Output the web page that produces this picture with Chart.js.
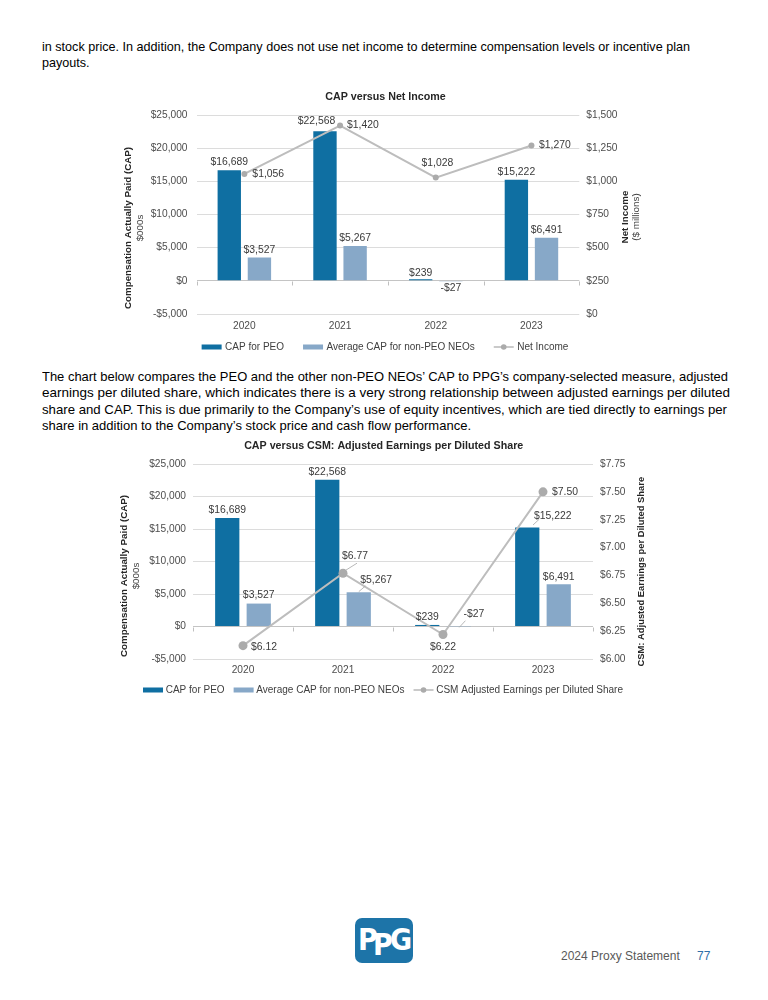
<!DOCTYPE html>
<html><head><meta charset="utf-8">
<script src="https://cdn.jsdelivr.net/npm/chart.js@4.4.1/dist/chart.umd.min.js"></script>
<style>
html,body{margin:0;padding:0;background:#fff;}
#page{position:relative;width:768px;height:1000px;overflow:hidden;font-family:"Liberation Sans",Arial,sans-serif;color:#000;}
.p{position:absolute;left:42px;white-space:nowrap;}
.p div{height:16.45px;line-height:16.45px;}
.p span{display:inline-block;transform-origin:0 50%;}
canvas{position:absolute;left:0;}
#logo{position:absolute;left:355px;top:918px;width:58px;height:45px;border-radius:7px;background:#1d74a8;overflow:hidden;}
#logo span{position:absolute;color:#fff;font-family:"DejaVu Sans",sans-serif;font-weight:bold;font-stretch:condensed;line-height:1;}
#foot{position:absolute;top:949px;left:561px;font-size:12px;color:#595959;white-space:nowrap;}
#pg{position:absolute;top:949px;left:697px;font-size:12px;color:#2f6fa8;}
</style></head>
<body><div id="page">
<div class="p" style="top:38.8px;font-size:12.6px">
<div><span data-w="648">in stock price. In addition, the Company does not use net income to determine compensation levels or incentive plan</span></div>
<div><span>payouts.</span></div>
</div>
<canvas id="c1" width="768" height="275" style="top:85px"></canvas>
<div class="p" style="top:368.8px;font-size:13px">
<div><span data-w="686">The chart below compares the PEO and the other non-PEO NEOs’ CAP to PPG’s company-selected measure, adjusted</span></div>
<div><span data-w="688">earnings per diluted share, which indicates there is a very strong relationship between adjusted earnings per diluted</span></div>
<div><span data-w="685">share and CAP. This is due primarily to the Company’s use of equity incentives, which are tied directly to earnings per</span></div>
<div><span>share in addition to the Company’s stock price and cash flow performance.</span></div>
</div>
<canvas id="c2" width="768" height="275" style="top:430px"></canvas>
<div id="logo"><span style="left:3px;top:7px;font-size:30px">P</span><span style="left:18px;top:12px;font-size:30px">P</span><span style="left:35px;top:7px;font-size:30px">G</span></div>
<div id="foot">2024 Proxy Statement</div>
<div id="pg">77</div>
</div>
<script>
// ---- data ----
const years = ['2020', '2021', '2022', '2023'];
const capPEO = [16689, 22568, 239, 15222];
const capNEO = [3527, 5267, -27, 6491];
const netIncome = [1056, 1420, 1028, 1270];
const csmEPS = [6.12, 6.77, 6.22, 7.50];
const capAxis = [-5000, 25000, 5000];
const netIncomeAxis = [0, 1500, 250];
const epsAxis = [6.00, 7.75, 0.25];
const seriesNames = ['CAP for PEO', 'Average CAP for non-PEO NEOs', 'Net Income', 'CSM Adjusted Earnings per Diluted Share'];

// fit paragraph lines to their measured widths
document.querySelectorAll('.p span[data-w]').forEach(s => {
  const w = s.getBoundingClientRect().width;
  s.style.transform = 'scaleX(' + (parseFloat(s.dataset.w) / w) + ')';
});

const FONT = '"Liberation Sans", Arial, sans-serif';
const f = (s, b) => (b ? 'bold ' : '') + s + 'px ' + FONT;
const fmtUSD = v => (v < 0 ? '-' : '') + '$' + Math.abs(v).toLocaleString('en-US');
const fmtEPS = v => '$' + Number(v).toFixed(2);
const C_PEO = '#0f6fa2', C_NEO = '#87a8c8', C_LINE = '#bdbdbd', C_PT = '#ababab';
const TICK = '#4d4d4d', LAB = '#3a3a3a', DARK = '#262626';
const TS = 10.2;

function decor(spec) {
  return {
    id: 'decor',
    afterDatasetsDraw(chart) {
      const ctx = chart.ctx, a = chart.chartArea;
      ctx.save();
      const zy = Math.round(chart.scales.y.getPixelForValue(0)) + 0.5;
      const n = chart.data.labels.length, cw = (a.right - a.left) / n;
      ctx.strokeStyle = '#bfbfbf'; ctx.lineWidth = 1;
      for (let i = 0; i <= n; i++) {
        const x = Math.round(a.left + i * cw) + 0.5;
        ctx.beginPath(); ctx.moveTo(x, zy); ctx.lineTo(x, zy + 4); ctx.stroke();
      }
      ctx.font = f(10.4); ctx.fillStyle = LAB; ctx.textBaseline = 'middle';
      spec.labels.forEach(L => {
        const meta = chart.getDatasetMeta(L.ds);
        meta.data.forEach((el, i) => {
          const p = L.pos[i];
          const v = chart.data.datasets[L.ds].data[i];
          ctx.textAlign = p.al || 'center';
          const cx = el.x + p.dx, cy = el.y + p.dy;
          ctx.fillText(L.fmt(v), cx, cy);
          if (p.ld) {
            ctx.strokeStyle = '#a6a6a6'; ctx.lineWidth = 0.8;
            ctx.beginPath();
            ctx.moveTo(el.x + p.ld[0], el.y + p.ld[1]);
            ctx.lineTo(cx + p.ld[2], cy + p.ld[3]);
            ctx.stroke();
          }
        });
      });
      ctx.restore();
    },
    afterDraw(chart) {
      const ctx = chart.ctx;
      ctx.save();
      ctx.fillStyle = DARK; ctx.textAlign = 'center'; ctx.textBaseline = 'middle';
      ctx.font = f(10.7, true);
      ctx.fillText(spec.title, spec.tx, spec.ty);
      spec.axisTitles.forEach(t => {
        ctx.save();
        ctx.translate(t.x, t.y); ctx.rotate(-Math.PI / 2);
        ctx.font = f(t.size, t.bold); ctx.fillStyle = t.bold ? DARK : '#404040';
        ctx.fillText(t.text, 0, 0);
        ctx.restore();
      });
      ctx.font = f(10);
      let w = 0;
      const items = spec.legend.map(it => { const tw = ctx.measureText(it.text).width; return Object.assign({ tw }, it); });
      items.forEach((it, i) => { w += 20 + spec.lgap + it.tw + (i < items.length - 1 ? spec.igap : 0); });
      let x = spec.lx - w / 2; const y = spec.ly;
      ctx.textAlign = 'left';
      items.forEach(it => {
        if (it.type === 'box') {
          ctx.fillStyle = it.color; ctx.fillRect(x, y - 2.5, 20, 5);
        } else {
          ctx.strokeStyle = C_LINE; ctx.lineWidth = 1.6;
          ctx.beginPath(); ctx.moveTo(x, y); ctx.lineTo(x + 20, y); ctx.stroke();
          ctx.fillStyle = C_PT; ctx.beginPath(); ctx.arc(x + 10, y, 2.8, 0, Math.PI * 2); ctx.fill();
        }
        x += 20 + spec.lgap;
        ctx.fillStyle = '#404040'; ctx.fillText(it.text, x, y + 0.5);
        x += it.tw + spec.igap;
      });
      ctx.restore();
    }
  };
}

function yAxis(pos, ax, fmt, pad, width, grid) {
  return {
    position: pos, min: ax[0], max: ax[1],
    ticks: { stepSize: ax[2], callback: v => fmt(v), padding: pad, color: TICK, font: { family: FONT, size: TS } },
    grid: grid ? { color: c => (c.tick && c.tick.value === 0 ? '#c4c4c4' : '#dcdcdc'), drawTicks: false, lineWidth: 1 } : { display: false, drawTicks: false },
    border: { display: false },
    afterFit: s => { s.width = width; }
  };
}

function build(id, cfg) {
  return new Chart(document.getElementById(id), {
    data: {
      labels: years,
      datasets: [
        { type: 'line', label: cfg.lineName, data: cfg.lineData, yAxisID: 'y1', order: 0,
          borderColor: C_LINE, borderWidth: 2, pointRadius: cfg.pr, pointBackgroundColor: C_PT, pointBorderColor: C_PT, pointBorderWidth: 0, tension: 0 },
        { type: 'bar', label: seriesNames[0], data: capPEO, yAxisID: 'y', order: 1, backgroundColor: C_PEO,
          categoryPercentage: cfg.cp, barPercentage: cfg.bp },
        { type: 'bar', label: seriesNames[1], data: capNEO, yAxisID: 'y', order: 1, backgroundColor: C_NEO,
          categoryPercentage: cfg.cp, barPercentage: cfg.bp }
      ]
    },
    options: {
      responsive: false, animation: false, devicePixelRatio: 1,
      layout: { padding: cfg.padding },
      plugins: { legend: { display: false }, tooltip: { enabled: false }, title: { display: false } },
      scales: {
        x: { type: 'category', offset: true, grid: { display: false, drawTicks: false }, border: { display: false },
             ticks: { color: TICK, font: { family: FONT, size: TS }, padding: cfg.xpad, maxRotation: 0 },
             afterFit: s => { s.height = 46; } },
        y: yAxis('left', capAxis, fmtUSD, cfg.lpad, 70, true),
        y1: yAxis('right', cfg.rAxis, cfg.rFmt, cfg.rpad, 70, false)
      }
    },
    plugins: [decor(cfg.spec)]
  });
}

// chart 1: CAP versus Net Income
build('c1', {
  lineName: seriesNames[2], lineData: netIncome, pr: 3, cp: 0.63, bp: 0.775,
  padding: { left: 126.5, right: 118.7, top: 30, bottom: 0 },
  xpad: 6, lpad: 9, rpad: 7, rAxis: netIncomeAxis, rFmt: fmtUSD,
  spec: {
    title: 'CAP versus Net Income', tx: 385.5, ty: 12,
    axisTitles: [
      { text: 'Compensation Actually Paid (CAP)', x: 128.5, y: 143, size: 9.8, bold: true },
      { text: '$000s', x: 140.5, y: 143, size: 9.8, bold: false },
      { text: 'Net Income', x: 625.5, y: 132, size: 9.8, bold: true },
      { text: '($ millions)', x: 636.5, y: 132, size: 9.8, bold: false }
    ],
    legend: [
      { type: 'box', color: C_PEO, text: seriesNames[0] },
      { type: 'box', color: C_NEO, text: seriesNames[1] },
      { type: 'line', text: seriesNames[2] }
    ],
    lgap: 3.5, igap: 19, lx: 385, ly: 262,
    labels: [
      { ds: 1, fmt: fmtUSD, pos: [{ dx: 0, dy: -7.5 }, { dx: -8.5, dy: -10 }, { dx: 0, dy: -6.5 }, { dx: 0, dy: -7.5 }] },
      { ds: 2, fmt: fmtUSD, pos: [{ dx: 0, dy: -7.5 }, { dx: 0, dy: -7.5 }, { dx: 0, dy: 7.5 }, { dx: 0, dy: -7.5 }] },
      { ds: 0, fmt: fmtUSD, pos: [{ al: 'left', dx: 8, dy: 0.5 }, { al: 'left', dx: 7, dy: 0 }, { dx: 1.7, dy: -14 }, { al: 'left', dx: 7.6, dy: 0 }] }
    ]
  }
});

// chart 2: CAP versus CSM
build('c2', {
  lineName: seriesNames[3], lineData: csmEPS, pr: 4.5, cp: 0.63, bp: 0.77,
  padding: { left: 123, right: 105, top: 34, bottom: 0 },
  xpad: 5, lpad: 7, rpad: 7, rAxis: epsAxis, rFmt: fmtEPS,
  spec: {
    title: 'CAP versus CSM: Adjusted Earnings per Diluted Share', tx: 383.7, ty: 16,
    axisTitles: [
      { text: 'Compensation Actually Paid (CAP)', x: 124, y: 146, size: 9.8, bold: true },
      { text: '$000s', x: 136.5, y: 146, size: 9.8, bold: false },
      { text: 'CSM: Adjusted Earnings per Diluted Share', x: 641.7, y: 141.7, size: 9.4, bold: true }
    ],
    legend: [
      { type: 'box', color: C_PEO, text: seriesNames[0] },
      { type: 'box', color: C_NEO, text: seriesNames[1] },
      { type: 'line', text: seriesNames[3] }
    ],
    lgap: 2.7, igap: 9, lx: 383, ly: 260,
    labels: [
      { ds: 1, fmt: fmtUSD, pos: [{ dx: 0, dy: -8 }, { dx: 0, dy: -7.5 }, { dx: 0, dy: -8 }, { dx: 25.5, dy: -11.6, ld: [5.8, -2.6, -13.6, 3.3] }] },
      { ds: 2, fmt: fmtUSD, pos: [{ dx: 0, dy: -8 }, { dx: 17.4, dy: -12.3, ld: [0, -0.6, -10.7, 6] }, { dx: 15.2, dy: -12.7, ld: [0.5, 0.7, -8.5, 6.7] }, { dx: 0, dy: -7.5 }] },
      { ds: 0, fmt: fmtEPS, pos: [{ al: 'left', dx: 8, dy: 2 }, { dx: 12, dy: -17, ld: [2.8, -3, 2, 7] }, { dx: 0, dy: 12.5 }, { al: 'left', dx: 9, dy: 0 }] }
    ]
  }
});
</script>
</body></html>
